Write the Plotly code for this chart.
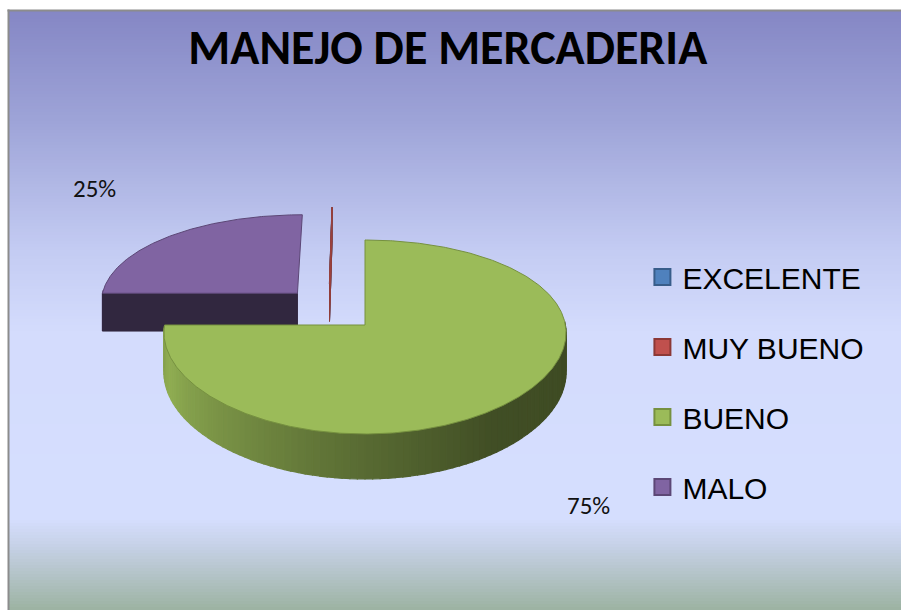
import numpy as np
import plotly.graph_objects as go

# ---------------- data ----------------
categories = ["EXCELENTE", "MUY BUENO", "BUENO", "MALO"]
percent = [0, 0, 75, 25]
label_text = ["0%", "0%", "75%", "25%"]
title_text = "MANEJO DE MERCADERIA"

# ---------------- style ----------------
top_colors = ["#4f81bd", "#c0504d", "#9bbb59", "#8064a2"]
edge_colors = ["#385d8a", "#8c3836", "#76913f", "#5c4776"]
W, H = 901, 610
CX, CY = 365.0, 325.0          # projected pie centre (px)
SX, SY = 200.4, 95.5           # projected radii (px)
KX, KY = 0.08, 0.1237          # perspective factors
DEPTH = 39.4                   # pie thickness (px)
pull = [0.49, 0.49, 0.0, 0.49]
pull_dir = [338, 338, None, None]
label_r = [0, 0, 1.45, 1.65]
label_down = [0, 0, 1, 0]
label_shift = [0, 0, -23, 15]
LABEL_FONT = "Carlito, 'Liberation Sans Narrow', Lato, 'Open Sans', sans-serif"


def proj(u, v, down=0.0):
    u = np.asarray(u, float)
    v = np.asarray(v, float)
    wx = 1 - KX * v
    wy = 1 - KY * v
    return CX + SX * u / wx, CY + SY * v / wy + down * DEPTH / wy


def circ(theta, r=1.0, off=(0.0, 0.0)):
    t = np.radians(theta)
    return off[0] + r * np.sin(t), off[1] - r * np.cos(t)


def hex2rgb(h):
    h = h.lstrip("#")
    return tuple(int(h[i:i + 2], 16) for i in (0, 2, 4))


def shade(h, f):
    r, g, b = hex2rgb(h)
    return "rgb(%d,%d,%d)" % (min(255, r * f), min(255, g * f), min(255, b * f))


def wall_factor(theta):
    t = (270 - theta) / 180.0
    return float(np.interp(t, [0, 0.1, 0.5, 0.7, 1.0], [0.86, 0.93, 0.57, 0.42, 0.40]))


fig = go.Figure()

# ---------------- background gradient ----------------
stops_y = [10, 120, 250, 330, 518, 545, 575, 610]
stops_c = ["#8587c5", "#9ea4d8", "#c4ccf3", "#d4dcfd", "#d6dfff", "#c7d2e8", "#b4c4c8", "#9cb3a2"]
stops_rgb = np.array([hex2rgb(c) for c in stops_c], float)
shapes = []
band = 3
for y0 in range(10, 612, band):
    ym = y0 + band / 2
    rgb = [np.interp(ym, stops_y, stops_rgb[:, k]) for k in range(3)]
    shapes.append(dict(type="rect", xref="x", yref="y", x0=8, x1=W, y0=y0, y1=min(y0 + band + 0.6, H),
                       fillcolor="rgb(%d,%d,%d)" % tuple(int(c) for c in rgb),
                       line=dict(width=0), layer="below"))
# chart-area frame: only left and top edges are inside the picture
shapes.append(dict(type="line", xref="x", yref="y", x0=8.5, x1=8.5, y0=9.5, y1=H,
                   line=dict(color="#8c8c8c", width=2), layer="below"))
shapes.append(dict(type="line", xref="x", yref="y", x0=7.5, x1=W, y0=10.5, y1=10.5,
                   line=dict(color="#8c8c8c", width=2), layer="below"))

# ---------------- 3D pie geometry ----------------
total = float(sum(percent))
spans = [360.0 * p / total for p in percent]
starts = np.concatenate([[0], np.cumsum(spans)[:-1]])

slices = []
for i, cat in enumerate(categories):
    a0, a1 = starts[i], starts[i] + spans[i]
    d = pull_dir[i] if pull_dir[i] is not None else (a0 + a1) / 2
    off = circ(d, pull[i])
    th = np.linspace(a0, a1, 50)
    cu, cv = circ(th, 1.0, off)
    order_key = max(np.max(cv), off[1])
    slices.append((order_key, i, a0, a1, off))

slices.sort(key=lambda s: s[0])


def add_poly(xs, ys, fill, line_color=None, lw=0.8):
    fig.add_trace(go.Scatter(x=list(xs) + [xs[0]], y=list(ys) + [ys[0]], mode="lines",
                             fill="toself", fillcolor=fill,
                             line=dict(color=line_color or fill, width=lw),
                             hoverinfo="skip", showlegend=False))


for key, i, a0, a1, off in slices:
    col = top_colors[i]
    span = a1 - a0
    # curved outer wall (visible front part)
    if span > 0:
        n = max(2, int(span / 2))
        th = np.linspace(a0, a1, n + 1)
        for k in range(n):
            tm = (th[k] + th[k + 1]) / 2
            if np.cos(np.radians(tm)) < 0.02:
                u, v = circ(np.array([th[k], th[k + 1]]), 1.0, off)
                xt, yt = proj(u, v, 0)
                xb, yb = proj(u, v, 1)
                c = shade(col, wall_factor(tm))
                add_poly([xt[0], xt[1], xb[1], xb[0]], [yt[0], yt[1], yb[1], yb[0]], c, c, 1.2)
    # radial faces
    for ang, nang in ((a0, a0 - 90), (a1, a1 + 90)):
        nv = -np.cos(np.radians(nang))
        if nv > 0.05 or span == 0:
            pu, pv = circ(ang, 1.0, off)
            xs_t, ys_t = proj([off[0], pu], [off[1], pv], 0)
            xs_b, ys_b = proj([off[0], pu], [off[1], pv], 1)
            c = shade(col, 0.39) if span > 0 else col
            add_poly([xs_t[0], xs_t[1], xs_b[1], xs_b[0]], [ys_t[0], ys_t[1], ys_b[1], ys_b[0]],
                     c, shade(col, 0.75) if span == 0 else c, 1.0)
    # top face
    if span > 0:
        th = np.linspace(a0, a1, int(span * 2) + 2)
        u, v = circ(th, 1.0, off)
        xs, ys = proj(np.concatenate([[off[0]], u]), np.concatenate([[off[1]], v]), 0)
        add_poly(xs, ys, col, edge_colors[i], 1.0)
    else:
        pu, pv = circ(a0, 1.0, off)
        xs, ys = proj([off[0], pu], [off[1], pv], 0)
        fig.add_trace(go.Scatter(x=xs, y=ys, mode="lines", line=dict(color=shade(col, 0.8), width=1.2),
                                 hoverinfo="skip", showlegend=False))

# ---------------- percentage labels ----------------
annotations = []
for key, i, a0, a1, off in slices:
    if percent[i] <= 0:
        continue
    mid = (a0 + a1) / 2
    u, v = circ(mid, label_r[i], off)
    lx, ly = proj(u, v, label_down[i])
    annotations.append(dict(x=float(lx), y=float(ly), xref="x", yref="y", text=label_text[i],
                            showarrow=False, yshift=label_shift[i],
                            font=dict(family=LABEL_FONT, size=25, color="#111111")))

# ---------------- legend entries ----------------
for i, cat in enumerate(categories):
    fig.add_trace(go.Scatter(x=[None], y=[None], mode="markers", name=cat, legendgroup=cat,
                             marker=dict(symbol="square", size=16, color=top_colors[i],
                                         line=dict(color=edge_colors[i], width=2))))

fig.update_layout(
    width=W, height=H, autosize=False,
    margin=dict(l=0, r=0, t=0, b=0),
    paper_bgcolor="white", plot_bgcolor="white",
    xaxis=dict(range=[0, W], visible=False, fixedrange=True),
    yaxis=dict(range=[H, 0], visible=False, fixedrange=True),
    shapes=shapes,
    annotations=annotations,
    title=dict(text="<b>%s</b>" % title_text, x=0.497, xanchor="center", y=1 - 47 / H, yanchor="middle",
               font=dict(family=LABEL_FONT, size=48, color="#000000")),
    legend=dict(x=0.713, xanchor="left", y=1 - 251 / H, yanchor="top",
                font=dict(family="'Liberation Sans', Arial, sans-serif", size=30, color="#000000"),
                bgcolor="rgba(0,0,0,0)", tracegroupgap=28, itemclick=False, itemdoubleclick=False),
    showlegend=True,
)

fig.write_html(
    "out.html",
    config={"displayModeBar": False},
    post_script=(
        "document.documentElement.style.overflow='hidden';"
        "document.body.style.margin='0';document.body.style.padding='0';"
        "document.body.style.overflow='hidden';"
    ),
)
